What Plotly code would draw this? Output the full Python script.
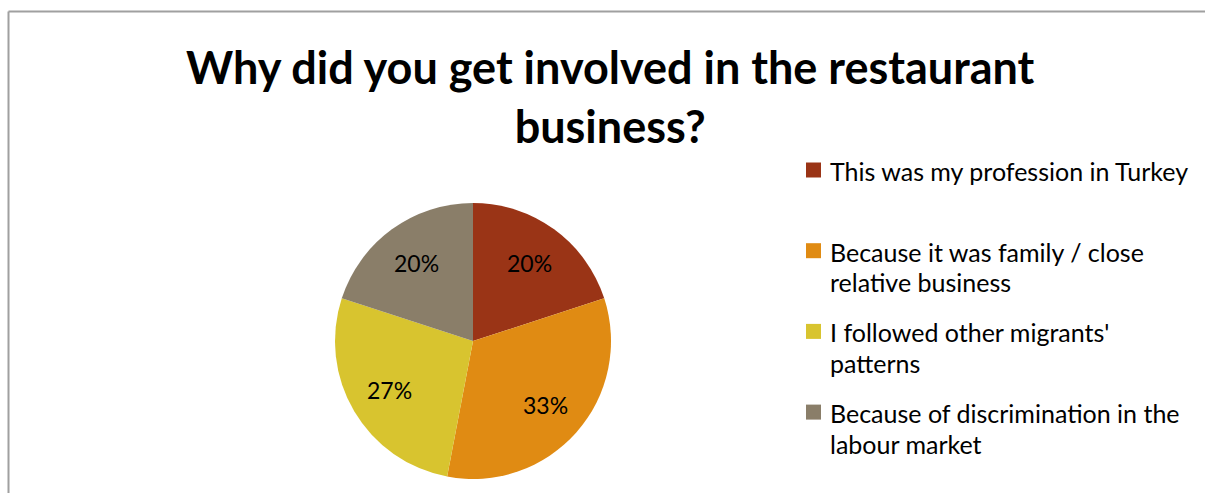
import math
import plotly.graph_objects as go

# Survey answers and their shares (percent)
labels = [
    "This was my profession in Turkey",
    "Because it was family / close<br>relative business",
    "I followed other migrants'<br>patterns",
    "Because of discrimination in the<br>labour market",
]
values = [20, 33, 27, 20]
colors = ["#9A3416", "#E08B13", "#D8C42F", "#8A7E69"]

title_lines = ["Why did you get involved in the restaurant", "business?"]

W, H = 1205, 493
FONT = "Lato"

# pie placement (px)
PIE_L, PIE_R, PIE_T, PIE_B = 335, 611, 203, 479
LABEL_RADIUS = 0.70  # percent labels sit at 70% of the radius

fig = go.Figure(
    go.Pie(
        labels=labels,
        values=values,
        sort=False,
        direction="clockwise",
        rotation=0,
        marker=dict(colors=colors, line=dict(width=0)),
        textinfo="none",
        domain=dict(x=[PIE_L / W, PIE_R / W], y=[1 - PIE_B / H, 1 - PIE_T / H]),
        hovertemplate="%{label}<br>%{percent}<extra></extra>",
        showlegend=False,
    )
)

# percent labels placed along each slice's middle angle
cx, cy = (PIE_L + PIE_R) / 2, (PIE_T + PIE_B) / 2
rad = (PIE_R - PIE_L) / 2
total = sum(values)
cum = 0.0
for v in values:
    mid = (cum + v / 2) / total * 2 * math.pi  # clockwise from 12 o'clock
    cum += v
    px = cx + LABEL_RADIUS * rad * math.sin(mid)
    py = cy - LABEL_RADIUS * rad * math.cos(mid)
    fig.add_annotation(
        text=f"{round(100 * v / total)}%",
        x=px / W, y=1 - py / H,
        xref="paper", yref="paper",
        xanchor="center", yanchor="middle",
        showarrow=False,
        font=dict(family=FONT, size=23, color="#000000"),
    )

# two-line bold title
fig.add_annotation(
    text="<br>".join(f"<b>{t}</b>" for t in title_lines),
    x=610 / W, y=1 - 38 / H,
    xref="paper", yref="paper",
    xanchor="center", yanchor="top",
    showarrow=False,
    font=dict(family=FONT, size=45, color="#000000"),
)

# legend on the right: colour square + wrapped label lines
LEG_X_SW = 806      # swatch left edge (px)
LEG_X_TXT = 828     # text left edge (px)
LEG_Y0 = 170        # centre of first swatch (px)
LEG_STEP = 80.7     # distance between entries (px)
LINE_H = 30.7       # line spacing inside an entry (px)
SW = 15             # swatch size (px)

for i, (lab, col) in enumerate(zip(labels, colors)):
    yc = LEG_Y0 + i * LEG_STEP
    fig.add_shape(
        type="rect", xref="paper", yref="paper",
        x0=LEG_X_SW / W, x1=(LEG_X_SW + SW) / W,
        y0=1 - (yc + SW / 2) / H, y1=1 - (yc - SW / 2) / H,
        fillcolor=col, line=dict(width=0),
    )
    for j, line in enumerate(lab.split("<br>")):
        fig.add_annotation(
            text=line,
            x=LEG_X_TXT / W, y=1 - (yc + 1 + j * LINE_H) / H,
            xref="paper", yref="paper",
            xanchor="left", yanchor="middle",
            showarrow=False,
            font=dict(family=FONT, size=25, color="#000000"),
        )

# chart frame (top and left edges visible)
fig.add_shape(type="line", xref="paper", yref="paper",
              x0=8.5 / W, x1=1.0, y0=1 - 11.5 / H, y1=1 - 11.5 / H,
              line=dict(color="#A0A0A0", width=2))
fig.add_shape(type="line", xref="paper", yref="paper",
              x0=8.5 / W, x1=8.5 / W, y0=0, y1=1 - 11.5 / H,
              line=dict(color="#A0A0A0", width=2))

fig.update_layout(
    width=W, height=H,
    margin=dict(l=0, r=0, t=0, b=0),
    paper_bgcolor="#FFFFFF",
    plot_bgcolor="#FFFFFF",
    showlegend=False,
)

fig.write_html("out.html")
